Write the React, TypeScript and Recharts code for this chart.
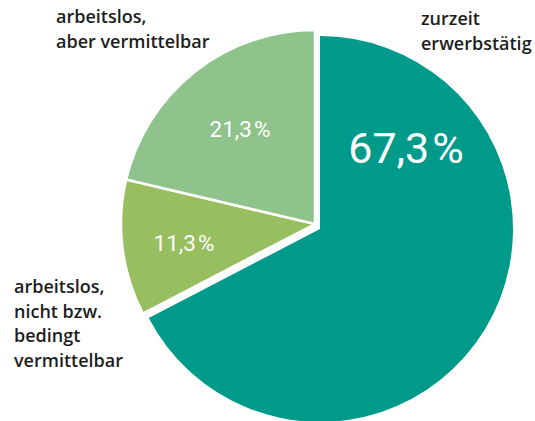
import React from 'react';
import { PieChart, Pie, Cell } from 'recharts';

// shares in percent, clockwise from 12 o'clock
const categories = ['zurzeit erwerbstätig', 'arbeitslos, nicht bzw. bedingt vermittelbar', 'arbeitslos, aber vermittelbar'];
const shares = [67.3, 11.3, 21.3];
const categoryLines = [
  ['zurzeit', 'erwerbstätig'],
  ['arbeitslos,', 'nicht bzw.', 'bedingt', 'vermittelbar'],
  ['arbeitslos,', 'aber vermittelbar'],
];

const COLORS = ['#009a8b', '#97be5f', '#8ec48b'];

// where the texts sit (pixels in the chart)
const PCT_POS = [
  { x: 406, y: 163, size: 43, gap: 3 },
  { x: 184, y: 251, size: 22.5, gap: 2 },
  { x: 240, y: 137, size: 22.5, gap: 2 },
];
const NAME_POS = [
  { x: 421, y: 25 },
  { x: 14, y: 293 },
  { x: 56, y: 23 },
];
const LINE_H = 24.5;

const data = categories.map((name, i) => ({ name, share: shares[i] }));

const fmt = (v: number) => v.toFixed(1).replace('.', ',');

const renderLabel = (props: any) => {
  const i = props.index;
  const p = PCT_POS[i];
  const n = NAME_POS[i];
  return (
    <g key={`lbl-${i}`}>
      <text x={p.x} y={p.y} textAnchor="middle" fill="#fff"
        style={{ fontFamily: 'Roboto, sans-serif', fontSize: p.size }}>
        {fmt(shares[i])}
        <tspan dx={p.gap}>%</tspan>
      </text>
      <text x={n.x} y={n.y} fill="#1d1d1b"
        style={{ fontFamily: '"Open Sans", sans-serif', fontSize: 18, fontWeight: 600 }}>
        {categoryLines[i].map((line, k) => (
          <tspan key={k} x={n.x} y={n.y + k * LINE_H}>{line}</tspan>
        ))}
      </text>
    </g>
  );
};

export default function App() {
  return (
    <div style={{ position: 'absolute', left: 0, top: 0, background: '#fff' }}>
      <PieChart width={535} height={421} margin={{ top: 0, right: 0, bottom: 0, left: 0 }}>
        {/* employed slice, pulled out a bit */}
        <Pie data={data} dataKey="share" cx={320} cy={229} outerRadius={193}
          startAngle={90} endAngle={-270} isAnimationActive={false} stroke="none">
          {data.map((d, i) => (
            <Cell key={d.name} fill={i === 0 ? COLORS[0] : 'none'} stroke="none" />
          ))}
        </Pie>
        <Pie data={data} dataKey="share" cx={315} cy={224} outerRadius={194}
          startAngle={90} endAngle={-270} isAnimationActive={false}
          label={renderLabel} labelLine={false}>
          {data.map((d, i) => (
            <Cell key={d.name} fill={i === 0 ? 'none' : COLORS[i]}
              stroke={i === 0 ? 'none' : '#fff'} strokeWidth={2.5} />
          ))}
        </Pie>
      </PieChart>
    </div>
  );
}
